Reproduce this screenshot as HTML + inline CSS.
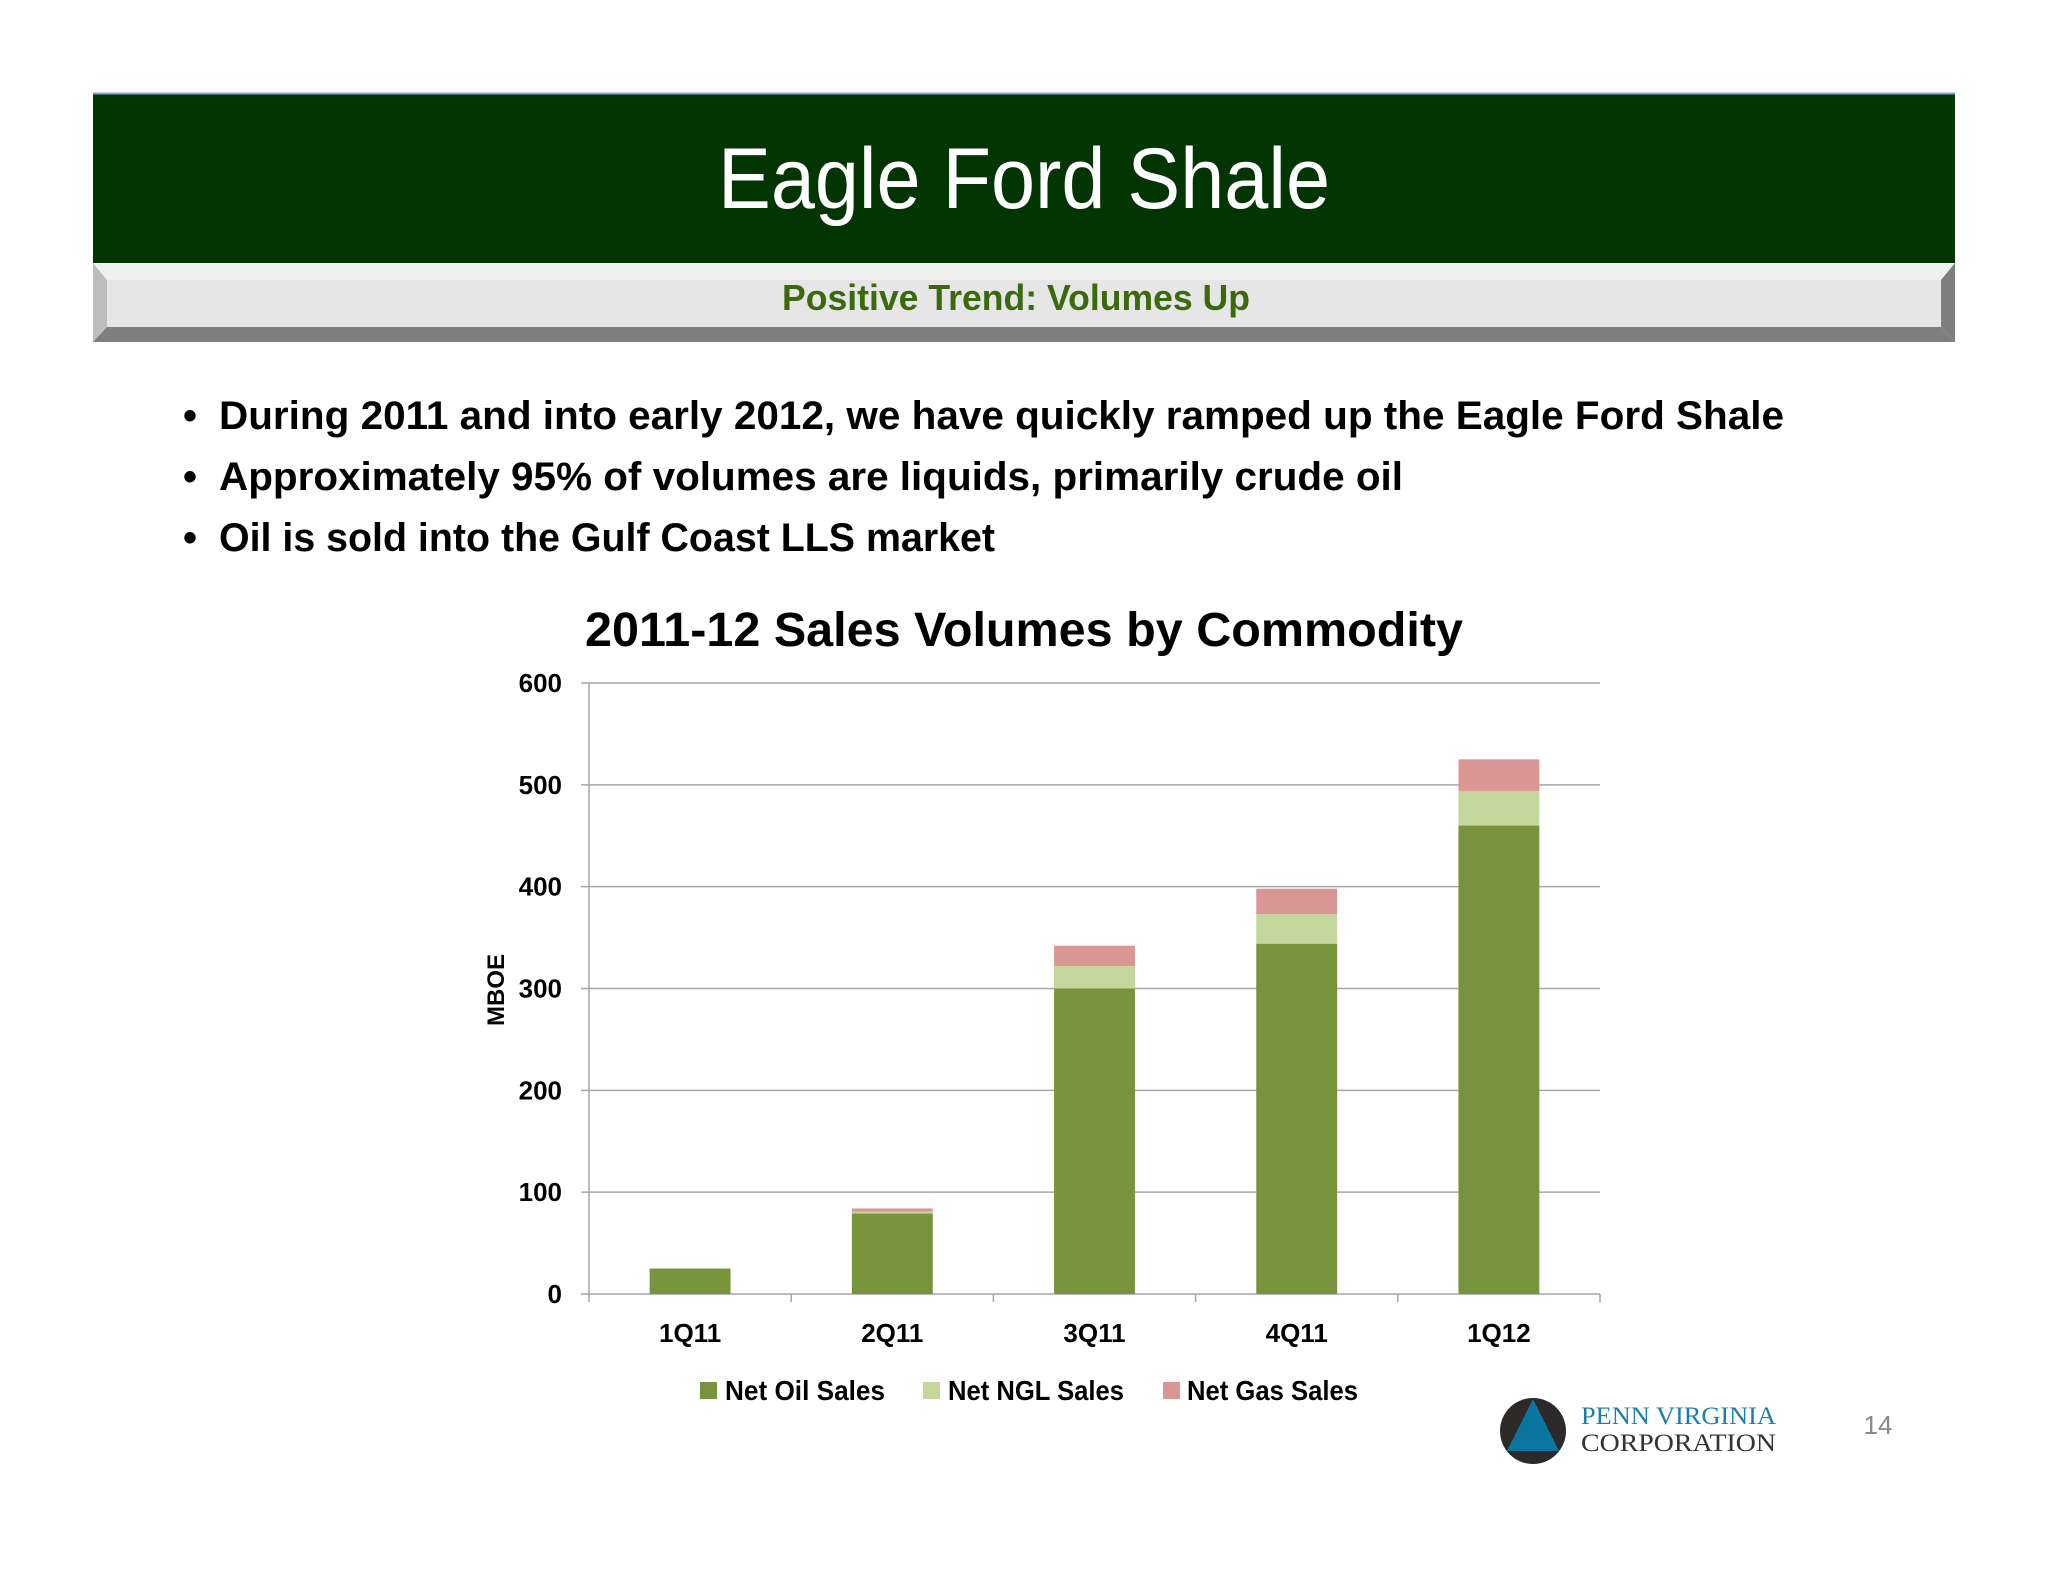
<!DOCTYPE html>
<html><head><meta charset="utf-8">
<style>
html,body{margin:0;padding:0;background:#fff;}
svg{display:block;font-family:"Liberation Sans",sans-serif;}
</style></head>
<body>
<svg id="slide" width="2048" height="1582" viewBox="0 0 2048 1582" xmlns="http://www.w3.org/2000/svg">
  <rect x="93" y="93" width="1862" height="170" fill="#033503"/>
  <line x1="93" y1="93.5" x2="1955" y2="93.5" stroke="#7fa7d4" stroke-width="2"/>
  <text x="1024" y="208" text-anchor="middle" fill="#fff" font-size="86" textLength="612" lengthAdjust="spacingAndGlyphs">Eagle Ford Shale</text>
  <g>
    <polygon points="93,263 1955,263 1941,280 107,280" fill="#f0f0f0"/>
    <polygon points="93,263 107,280 107,327 93,342" fill="#bdbdbd"/>
    <polygon points="1955,263 1941,280 1941,327 1955,342" fill="#7f7f7f"/>
    <rect x="107" y="280" width="1834" height="47" fill="#e6e6e6"/>
    <polygon points="93,342 107,327 1941,327 1955,342" fill="#7f7f7f"/>
  </g>
  <text x="1016" y="310" text-anchor="middle" fill="#3b6a0c" font-size="36" font-weight="bold" textLength="468" lengthAdjust="spacingAndGlyphs">Positive Trend: Volumes Up</text>

  <g font-size="40" font-weight="bold" fill="#000">
    <text x="183" y="429">•</text>
    <text x="219" y="429" textLength="1565" lengthAdjust="spacingAndGlyphs">During 2011 and into early 2012, we have quickly ramped up the Eagle Ford Shale</text>
    <text x="183" y="490">•</text>
    <text x="219" y="490" textLength="1184" lengthAdjust="spacingAndGlyphs">Approximately 95% of volumes are liquids, primarily crude oil</text>
    <text x="183" y="551">•</text>
    <text x="219" y="551" textLength="776" lengthAdjust="spacingAndGlyphs">Oil is sold into the Gulf Coast LLS market</text>
  </g>

  <text x="1024" y="646" text-anchor="middle" font-size="48" font-weight="bold" fill="#000" textLength="878" lengthAdjust="spacingAndGlyphs">2011-12 Sales Volumes by Commodity</text>
  <text transform="translate(504,990) rotate(-90)" text-anchor="middle" font-size="24" font-weight="bold">MBOE</text>
  <g id="chart"></g>

  <g>
    <rect x="700" y="1382" width="17" height="17" fill="#77933c"/>
    <text x="725" y="1400" font-size="28" font-weight="bold" textLength="160" lengthAdjust="spacingAndGlyphs">Net Oil Sales</text>
    <rect x="923" y="1382" width="17" height="17" fill="#c3d69b"/>
    <text x="948" y="1400" font-size="28" font-weight="bold" textLength="176" lengthAdjust="spacingAndGlyphs">Net NGL Sales</text>
    <rect x="1163" y="1382" width="17" height="17" fill="#d99694"/>
    <text x="1187" y="1400" font-size="28" font-weight="bold" textLength="171" lengthAdjust="spacingAndGlyphs">Net Gas Sales</text>
  </g>

  <g>
    <circle cx="1533" cy="1431" r="33" fill="#2b2a28"/>
    <polygon points="1533,1399 1559,1451 1507,1451" fill="#0a76a0"/>
    <text x="1581" y="1424" font-family="Liberation Serif,serif" font-size="25" fill="#1a7fab" textLength="195" lengthAdjust="spacingAndGlyphs">PENN VIRGINIA</text>
    <text x="1581" y="1451" font-family="Liberation Serif,serif" font-size="25" fill="#333" textLength="195" lengthAdjust="spacingAndGlyphs">CORPORATION</text>
  </g>
  <text x="1878" y="1434" text-anchor="middle" font-size="26" fill="#8a8a8a">14</text>
</svg>
<script>
const categories = ["1Q11","2Q11","3Q11","4Q11","1Q12"];
const oilSales = [25, 79, 300, 344, 460];
const nglSales = [0, 2, 22, 29, 34];
const gasSales = [0, 3, 20, 25, 31];
const yTicks = [0, 100, 200, 300, 400, 500, 600];

const NS = "http://www.w3.org/2000/svg";
const chartG = document.getElementById("chart");
const plotLeft = 589, plotRight = 1600, plotTop = 683, plotBottom = 1294, yMax = 600;
const yScale = v => plotBottom - (v / yMax) * (plotBottom - plotTop);
const band = (plotRight - plotLeft) / categories.length;
const xScale = i => plotLeft + band * i;
function mk(tag, attrs) { const e = document.createElementNS(NS, tag); for (const k in attrs) e.setAttribute(k, attrs[k]); chartG.appendChild(e); return e; }

yTicks.forEach(t => {
  const ln = mk("line", {x1: plotLeft - 8, x2: plotRight, y1: yScale(t), y2: yScale(t), stroke: "#a6a6a6", "stroke-width": 1.5});
  
  
  const tx = mk("text", {x: 562, y: yScale(t) + 9, "text-anchor": "end", "font-size": 26, "font-weight": "bold"});
  tx.textContent = t;
  
  
});
const ax = mk("line", {x1: plotLeft, x2: plotLeft, y1: plotTop, y2: plotBottom, stroke: "#a6a6a6", "stroke-width": 1.5});


for (let i = 0; i <= categories.length; i++) {
  const tk = mk("line", {x1: xScale(i), x2: xScale(i), y1: plotBottom, y2: plotBottom + 8, stroke: "#a6a6a6", "stroke-width": 1.5});
  
  
}
const bw = band * 0.4;
categories.forEach((c, i) => {
  const bx = xScale(i) + (band - bw) / 2;
  let base = 0;
  [[oilSales, "#77933c", "oil"], [nglSales, "#c3d69b", "ngl"], [gasSales, "#d99694", "gas"]].forEach(([arr, col, nm]) => {
    const v = arr[i];
    if (v > 0) {
      const r = mk("rect", {x: bx, y: yScale(base + v), width: bw, height: yScale(base) - yScale(base + v), fill: col});
      
      
    }
    base += v;
  });
  const lb = mk("text", {x: xScale(i) + band / 2, y: 1342, "text-anchor": "middle", "font-size": 26, "font-weight": "bold"});
  lb.textContent = c;
  
  
});
</script>
</body></html>
